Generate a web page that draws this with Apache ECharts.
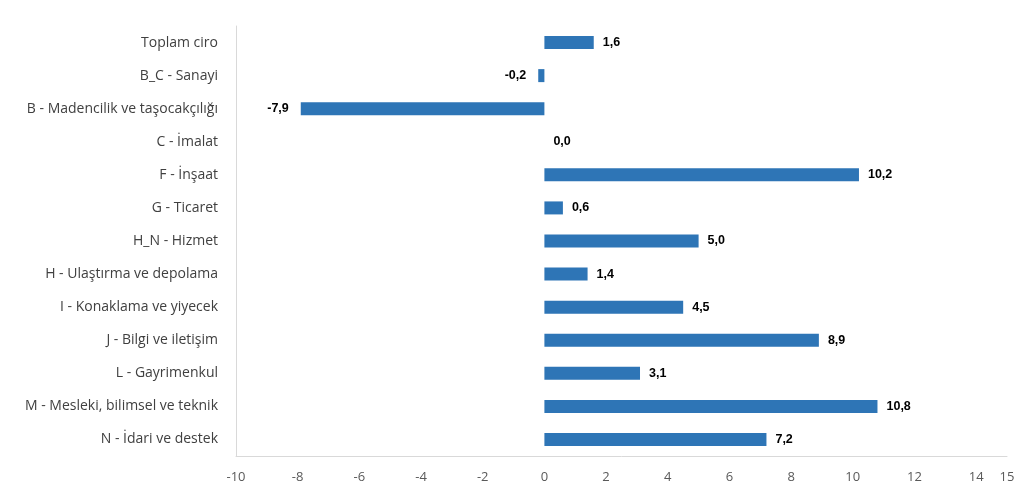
<!DOCTYPE html>
<html>
<head>
<meta charset="utf-8">
<script src="https://cdn.jsdelivr.net/npm/echarts@6/dist/echarts.min.js"></script>
<style>html,body{margin:0;padding:0;background:#fff}#c{width:1024px;height:498px}</style>
</head>
<body>
<div id="c"></div>
<script>
var categories = ["Toplam ciro","B_C - Sanayi","B - Madencilik ve taşocakçılığı","C - İmalat","F - İnşaat","G - Ticaret","H_N - Hizmet","H - Ulaştırma ve depolama","I - Konaklama ve yiyecek","J - Bilgi ve iletişim","L - Gayrimenkul","M - Mesleki, bilimsel ve teknik","N - İdari ve destek"];
var values = [1.6, -0.2, -7.9, 0.0, 10.2, 0.6, 5.0, 1.4, 4.5, 8.9, 3.1, 10.8, 7.2];

var chart = echarts.init(document.getElementById('c'));
chart.setOption({
  animation: false,
  grid: {left: 236, right: 17, top: 26, bottom: 42, containLabel: false},
  xAxis: {
    type: 'value', min: -10, max: 15, interval: 2,
    splitLine: {show: false},
    axisLine: {show: true, lineStyle: {color: '#d9d9d9'}},
    axisTick: {show: false},
    axisLabel: {color: '#595959', fontSize: 13, fontFamily: 'Open Sans', margin: 15}
  },
  yAxis: {
    type: 'category', data: categories, inverse: true,
    axisLine: {show: true, onZero: false, lineStyle: {color: '#d9d9d9'}},
    axisTick: {show: false},
    axisLabel: {color: '#404040', fontSize: 14, fontFamily: 'Open Sans', margin: 18}
  },
  series: [{
    type: 'bar', barWidth: 13,
    itemStyle: {color: '#2e75b6'},
    data: values.map(function(v){
      return {value: v, label: {position: v < 0 ? 'left' : 'right', distance: v < 0 ? 12 : 9}};
    }),
    label: {
      show: true,
      fontFamily: 'Liberation Sans, Arial', fontWeight: 'bold', fontSize: 12.5, color: '#000',
      formatter: function(p){ return p.value.toFixed(1).replace('.', ','); }
    }
  }]
});
</script>
</body>
</html>
